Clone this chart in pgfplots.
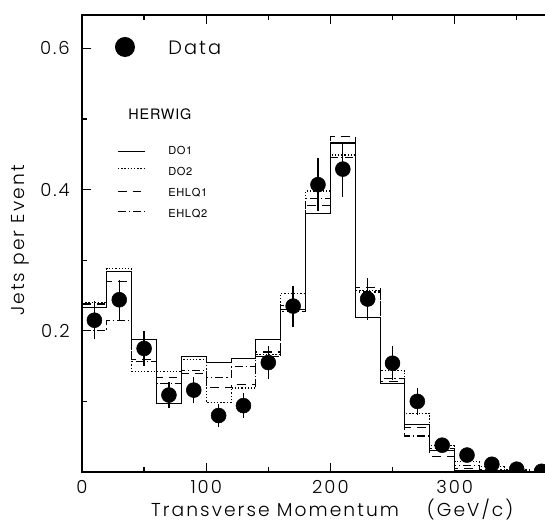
\documentclass[border=0pt]{standalone}
\usepackage{pgfplots}
\pgfplotsset{compat=1.18}
\usepackage{pgfplotstable}
\usepackage{fontspec}
\setmainfont{Poppins}[UprightFont=* Light, LetterSpace=11]
\newfontfamily\heros{TeX Gyre Heros}[LetterSpace=6]

% measured jet rate (bin centre, value, error)
\pgfplotstableread{
x    y       e
10   0.215   0.027
30   0.244   0.028
50   0.175   0.025
70   0.109   0.018
90   0.116   0.018
110  0.080   0.016
130  0.094   0.018
150  0.155   0.023
170  0.235   0.029
190  0.407   0.038
210  0.429   0.039
230  0.245   0.030
250  0.154   0.024
270  0.100   0.019
290  0.038   0.008
310  0.024   0.006
330  0.011   0.004
350  0.004   0.002
370  0.001   0.001
}\data

% HERWIG predictions, one value per 20 GeV bin (left edge)
\pgfplotstableread{
x    doa     dob     ea      eb
0    0.233   0.240   0.238   0.200
20   0.284   0.288   0.270   0.215
40   0.188   0.143   0.159   0.156
60   0.097   0.143   0.134   0.125
80   0.164   0.160   0.139   0.144
100  0.155   0.099   0.120   0.134
120  0.161   0.119   0.124   0.149
140  0.188   0.166   0.170   0.163
160  0.230   0.253   0.236   0.227
180  0.366   0.398   0.378   0.388
200  0.466   0.449   0.475   0.445
220  0.219   0.257   0.261   0.255
240  0.126   0.1435  0.128   0.133
260  0.067   0.083   0.063   0.051
280  0.030   0.037   0.022   0.033
300  0.002   0.0146  0.005   0.009
320  0.002   0.0075  0.002   0.003
340  0.001   0.003   0.001   0.002
360  0.0005  0.001   0.0005  0.001
380  0.0005  0.001   0.0005  0.001
}\herwig

\newcommand\ticksfont{\fontsize{13.5}{16}\selectfont}
\newcommand\labelfont{\fontsize{14}{16}\selectfont}
\newcommand\keyfont{\heros\fontsize{8.3}{10}\selectfont}

\tikzset{
  solidline/.style={line width=0.8pt},
  dotline/.style={line width=0.8pt, dash pattern=on 1pt off 1.4pt},
  dashline/.style={line width=0.8pt, dash pattern=on 6.5pt off 4.5pt},
  dashdotline/.style={line width=0.8pt, dash pattern=on 6pt off 2.2pt on 1pt off 2.2pt},
}

\begin{document}
\begin{tikzpicture}
\begin{axis}[
  at={(0,0)}, anchor=south west,
  scale only axis, width=353.97pt, height=342.75pt,
  xmin=0, xmax=380, ymin=0, ymax=0.6473,
  axis line style={line width=1.5pt},
  xtick={0,100,200,300}, minor xtick={50,150,250,350},
  ytick={0.2,0.4,0.6}, minor ytick={0.1,0.3,0.5},
  xticklabels={0,100,200,300}, yticklabels={0.2,0.4,0.6},
  ytick pos=left,
  tick align=inside,
  major tick length=7pt, minor tick length=4pt,
  every tick/.style={black, line width=0.9pt},
  /pgf/number format/assume math mode=true,
  tick label style={font=\ticksfont},
  xticklabel style={anchor=base, inner sep=0pt, yshift=-16pt},
  yticklabel style={anchor=east, inner sep=0pt, xshift=-9pt},
  label style={font=\labelfont},
  xlabel={Transverse Momentum\hspace{1.5em}(GeV/c)},
  x label style={at={(rel axis cs:0.53,-0.0977)}, anchor=base, inner sep=0pt},
  ylabel={Jets per Event},
  y label style={at={(rel axis cs:-0.1208,0.5066)}, anchor=base, inner sep=0pt},
  clip marker paths=true,
]
\addplot[only marks, mark=*, mark size=5.6pt, black,
  error bars/.cd, y dir=both, y explicit,
  error bar style={line width=1pt}, error mark=none]
  table[x=x, y=y, y error=e] {\data};

\addplot[const plot mark left, black, solidline]   table[x=x, y=doa] {\herwig};
\addplot[const plot mark left, black, dotline]     table[x=x, y=dob] {\herwig};
\addplot[const plot mark left, black, dashline]    table[x=x, y=ea]  {\herwig};
\addplot[const plot mark left, black, dashdotline] table[x=x, y=eb]  {\herwig};

% key
\node[circle, fill=black, inner sep=0pt, minimum size=15pt]
  at (rel axis cs:0.0911,0.930) {};
\node[anchor=base west, inner sep=0pt, font=\fontsize{14.5}{16}\selectfont]
  at (rel axis cs:0.1822,0.914) {Data};
\node[anchor=base west, inner sep=0pt, font=\heros\fontsize{10.8}{12}\selectfont]
  at (rel axis cs:0.0975,0.7724) {HERWIG};
\draw[solidline]   (rel axis cs:0.0763,0.7009) -- (rel axis cs:0.1335,0.7009);
\draw[dotline]     (rel axis cs:0.0763,0.6646) -- (rel axis cs:0.1335,0.6646);
\draw[dashline]    (rel axis cs:0.0763,0.6134) -- (rel axis cs:0.1335,0.6134);
\draw[dashdotline] (rel axis cs:0.0763,0.5696) -- (rel axis cs:0.1335,0.5696);
\node[anchor=base west, inner sep=0pt, font=\keyfont] at (rel axis cs:0.1822,0.6958) {DO1};
\node[anchor=base west, inner sep=0pt, font=\keyfont] at (rel axis cs:0.1822,0.6484) {DO2};
\node[anchor=base west, inner sep=0pt, font=\keyfont] at (rel axis cs:0.1822,0.6024) {EHLQ1};
\node[anchor=base west, inner sep=0pt, font=\keyfont] at (rel axis cs:0.1822,0.5573) {EHLQ2};
\end{axis}
\pgfresetboundingbox
\path[use as bounding box] (-61.5pt,-39.75pt) rectangle (347.25pt,354pt);
\end{tikzpicture}
\end{document}
